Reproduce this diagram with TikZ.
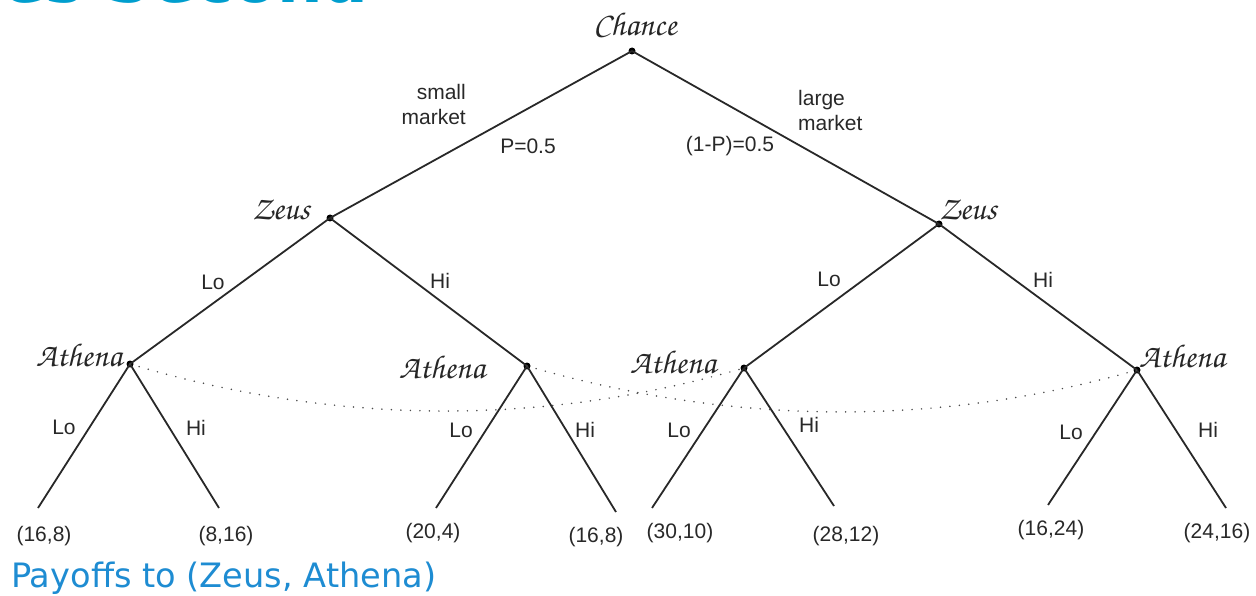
\documentclass[tikz,border=0pt]{standalone}
\usepackage[T1]{fontenc}
\usepackage{fontspec}
\setmainfont{Liberation Sans}
\newfontfamily\titlefont{DejaVu Sans}
\newcommand\scrfont{\fontencoding{T1}\fontfamily{pzc}\fontseries{mb}\fontshape{it}\selectfont}
\definecolor{teal1}{RGB}{0,158,206}
\definecolor{blue1}{RGB}{30,140,210}
\definecolor{ink}{RGB}{40,40,40}
\tikzset{
  edge/.style={line width=1.8pt, draw=ink},
  dotnode/.style={circle, fill=black, inner sep=0pt, minimum size=7pt},
  lbl/.style={text=ink, font=\fontsize{21}{25}\selectfont, inner sep=0pt},
  player/.style={text=black!85, font=\scrfont\fontsize{33}{35}\selectfont, inner sep=0pt},
  infoset/.style={draw=black!70, line width=1.7pt, line cap=round, dash pattern=on 0pt off 9.5pt},
}
\begin{document}
\begin{tikzpicture}[x=1pt,y=-1pt]
\useasboundingbox (0,0) rectangle (1256,596);
\begin{scope}
\clip (0,0) rectangle (1256,596);
\node[anchor=base east, inner sep=0pt, text=teal1, font=\titlefont\bfseries\fontsize{64}{70}\selectfont] (head) at (369,3) {es Second};
\end{scope}
\node[anchor=base west, inner sep=0pt, text=blue1, font=\titlefont\fontsize{33.6}{38}\selectfont] (title) at (11,587) {Payoffs to (Zeus, Athena)};

% decision nodes
\node[dotnode] (c) at (632,51) {};
\node[dotnode] (zl) at (330,218) {};
\node[dotnode] (zr) at (939,224) {};
\node[dotnode] (a1) at (130,364) {};
\node[dotnode] (a2) at (527,366) {};
\node[dotnode] (a3) at (744,368) {};
\node[dotnode] (a4) at (1137,370) {};
% leaf ends
\coordinate (l1) at (38,508);
\coordinate (l2) at (219,508);
\coordinate (l3) at (436,508);
\coordinate (l4) at (616,512);
\coordinate (l5) at (652,508);
\coordinate (l6) at (834,506);
\coordinate (l7) at (1048,505);
\coordinate (l8) at (1226,508);

% edges
\draw[edge] (c.center) -- (zl.center);
\draw[edge] (c.center) -- (zr.center);
\draw[edge] (zl.center) -- (a1.center);
\draw[edge] (zl.center) -- (a2.center);
\draw[edge] (zr.center) -- (a3.center);
\draw[edge] (zr.center) -- (a4.center);
\draw[edge] (a1.center) -- (l1);
\draw[edge] (a1.center) -- (l2);
\draw[edge] (a2.center) -- (l3);
\draw[edge] (a2.center) -- (l4);
\draw[edge] (a3.center) -- (l5);
\draw[edge] (a3.center) -- (l6);
\draw[edge] (a4.center) -- (l7);
\draw[edge] (a4.center) -- (l8);

% information sets
\draw[infoset] (a1.center) .. controls (335,425) and (540,427) .. (a3.center);
\draw[infoset] (a2.center) .. controls (730,425) and (935,428) .. (a4.center);

% player labels
\node[player] (pc) at (635,24) {Chance};
\node[player] (pzl) at (281,210) {Zeus};
\node[player] (pzr) at (968,210) {Zeus};
\node[player] (pa1) at (79,355) {Athena};
\node[player] (pa2) at (442,367) {Athena};
\node[player] (pa3) at (673,362) {Athena};
\node[player] (pa4) at (1182,356) {Athena};

% branch labels
\node[lbl, anchor=east, align=right] (sm) at (466,104) {small\\market};
\node[lbl, anchor=west, align=left] (lm) at (798,110) {large\\market};
\node[lbl] (p1) at (528,146) {P=0.5};
\node[lbl] (p2) at (730,146) {(1-P)=0.5};
\node[lbl] (e1) at (213,282) {Lo};
\node[lbl] (e2) at (440,281) {Hi};
\node[lbl] (e3) at (829,279) {Lo};
\node[lbl] (e4) at (1043,280) {Hi};
\node[lbl] (e5) at (64,427) {Lo};
\node[lbl] (e6) at (196,428) {Hi};
\node[lbl] (e7) at (461,430) {Lo};
\node[lbl] (e8) at (585,430) {Hi};
\node[lbl] (e9) at (679,430) {Lo};
\node[lbl] (e10) at (809,425) {Hi};
\node[lbl] (e11) at (1071,432) {Lo};
\node[lbl] (e12) at (1208,430) {Hi};

% payoffs
\node[lbl] (o1) at (44,536) {(16,8)};
\node[lbl] (o2) at (226,536) {(8,16)};
\node[lbl] (o3) at (433,533) {(20,4)};
\node[lbl] (o4) at (596,537) {(16,8)};
\node[lbl] (o5) at (680,533) {(30,10)};
\node[lbl] (o6) at (846,536) {(28,12)};
\node[lbl] (o7) at (1051,530) {(16,24)};
\node[lbl] (o8) at (1217,533) {(24,16)};
\end{tikzpicture}
\end{document}
